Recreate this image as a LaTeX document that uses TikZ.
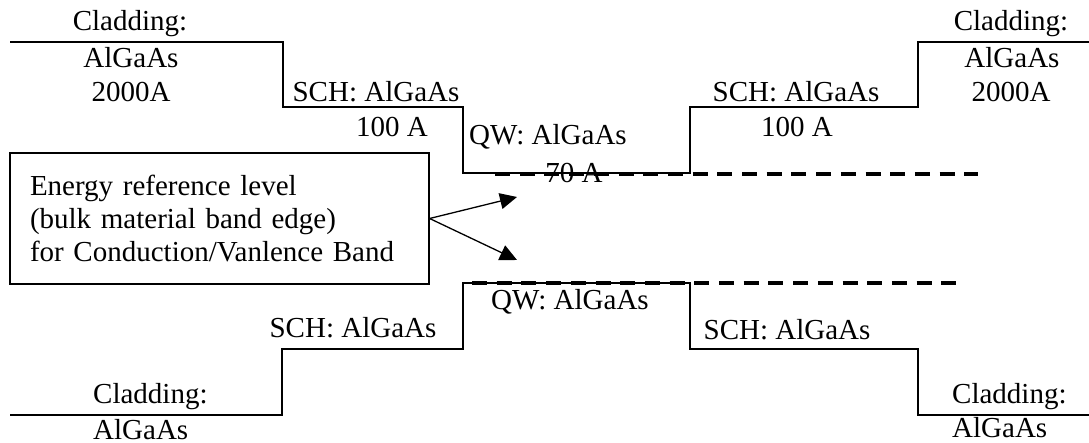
\documentclass[tikz,border=0pt]{standalone}
\usepackage{fontspec}
\setmainfont{Liberation Serif}
\usetikzlibrary{arrows.meta}
\begin{document}
\begin{tikzpicture}[x=1pt,y=-1pt,
  band/.style={line width=1.3pt},
  reflevel/.style={line width=4pt, dash pattern=on 15pt off 9.7pt},
  lbl/.style={inner sep=0pt, font=\fontsize{29}{33.4}\selectfont},
  pointer/.style={line width=1.3pt, -{Triangle[length=17pt,width=16pt]}}]
\useasboundingbox (0,0) rectangle (1089,443);

% conduction band profile
\draw[band] (10,42) -- (283,42) -- (283,107) -- (463,107) -- (463,173)
  -- (690,173) -- (690,107) -- (918,107) -- (918,42) -- (1089,42);
% valence band profile
\draw[band] (10,415) -- (282,415) -- (282,349) -- (463,349) -- (463,283)
  -- (690,283) -- (690,349) -- (918,349) -- (918,415) -- (1089,415);

% conduction band labels
\node[lbl] (cl1) at (130,24) {Cladding:};
\node[lbl] (cl1m) at (131,58) {AlGaAs};
\node[lbl] (cl1t) at (131,92) {2000A};
\node[lbl] (sch1) at (376,92) {SCH: AlGaAs};
\node[lbl] (sch1t) at (392,127) {100 A};
\node[lbl] (qw1) at (548,137) {QW: AlGaAs};
\node[lbl] (qw1t) at (574,173) {70 A};
\node[lbl] (sch2) at (796,92) {SCH: AlGaAs};
\node[lbl] (sch2t) at (797,127) {100 A};
\node[lbl] (cl2) at (1011,24) {Cladding:};
\node[lbl] (cl2m) at (1012,58) {AlGaAs};
\node[lbl] (cl2t) at (1011,92) {2000A};

% valence band labels
\node[lbl] (sch3) at (353,328) {SCH: AlGaAs};
\node[lbl] (qw2) at (570,302) {QW: AlGaAs};
\node[lbl] (sch4) at (787,330) {SCH: AlGaAs};
\node[lbl, anchor=west] (cl3) at (93,397) {Cladding:};
\node[lbl, anchor=west] (cl3m) at (93,430) {AlGaAs};
\node[lbl, anchor=west] (cl4) at (952,397) {Cladding:};
\node[lbl, anchor=west] (cl4m) at (952,428) {AlGaAs};

% bulk reference levels
\draw[reflevel] (495,174) -- (978,174);
\draw[reflevel] (472,283) -- (956,283);

% explanation box and pointers
\node[lbl, draw, line width=1.2pt, minimum width=419pt, minimum height=131pt,
  text width=379pt, align=left] (refbox) at (219.5,218.5)
  {Energy reference level\\(bulk material band edge)\\for Conduction/Vanlence Band};
\coordinate (tipc) at (517,197);
\coordinate (tipv) at (517,260);
\draw[pointer] (refbox.east) -- (tipc);
\draw[pointer] (refbox.east) -- (tipv);
\end{tikzpicture}
\end{document}
